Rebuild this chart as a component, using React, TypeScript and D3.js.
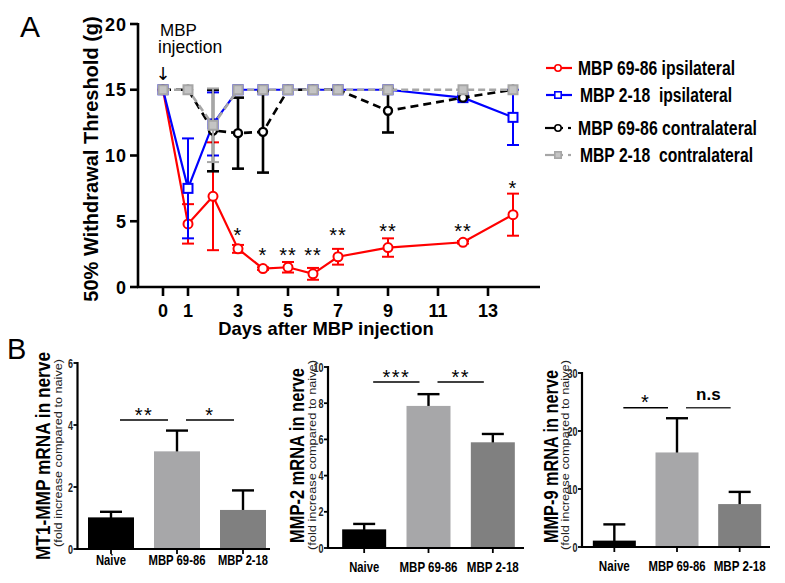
import * as d3 from "d3";

// ---- panel A data ----
const days = [0, 1, 2, 3, 4, 5, 6, 7, 9, 12, 14];
const ipsi6986 = [15, 4.8, 6.9, 2.9, 1.4, 1.5, 1.0, 2.3, 3.0, 3.4, 5.5];
const ipsi6986Err = [0, 1.5, 4.1, 0.3, 0.1, 0.4, 0.45, 0.6, 0.7, 0.1, 1.6];
const ipsi218 = [15, 7.5, 12.4, 15, 15, 15, 15, 15, 15, 14.4, 12.9];
const ipsi218Err = [0, 3.8, 2.4, 0, 0, 0, 0, 0, 0, 0.15, 2.1];
const contra6986 = [15, 15, 11.9, 11.7, 11.8, 15, 15, 15, 13.4, 14.4, 15];
const contra6986Err = [0, 0, 3.1, 2.7, 3.1, 0, 0, 0, 1.65, 0, 0];
const contra218 = [15, 15, 12.3, 15, 15, 15, 15, 15, 15, 15, 15];
const contra218Err = [0, 0, 2.8, 0, 0, 0, 0, 0, 0, 0, 0];
const seriesNames = ["MBP 69-86 ipsilateral", "MBP 2-18  ipsilateral", "MBP 69-86 contralateral", "MBP 2-18  contralateral"];
const dayTicks = [0, 1, 3, 5, 7, 9, 11, 13];
const thresholdTicks = [0, 5, 10, 15, 20];
const starDays = [3, 4, 5, 6, 7, 9, 12, 14];
const starLabels = ["*", "*", "**", "**", "**", "**", "**", "*"];
const starLevels = [4.3, 2.8, 2.8, 2.8, 4.3, 4.6, 4.6, 7.9];

// ---- panel B data ----
const barCategories = ["Naive", "MBP 69-86", "MBP 2-18"];
const mt1Values = [1.02, 3.15, 1.26];
const mt1Err = [0.18, 0.67, 0.63];
const mt1Ticks = [0, 2, 4, 6];
const mt1Sig = ["**", "*"];
const mmp2Values = [1.03, 7.85, 5.84];
const mmp2Err = [0.3, 0.65, 0.46];
const mmp2Ticks = [0, 2, 4, 6, 8, 10];
const mmp2Sig = ["***", "**"];
const mmp9Values = [1.1, 16.3, 7.4];
const mmp9Err = [2.8, 5.9, 2.1];
const mmp9Ticks = [0, 10, 20, 30];
const mmp9Sig = ["*", "n.s"];

const SANS = "'Liberation Sans', Arial, Helvetica, sans-serif";
const NARROW = "'Liberation Sans Narrow', 'Arial Narrow', 'Liberation Sans', Arial, sans-serif";

const seriesStyle = [
  { color: "#ff0000", dash: undefined, marker: "circle", size: 4.5, fill: "#fff", w: 2 },
  { color: "#0000ff", dash: undefined, marker: "square", size: 4.5, fill: "#fff", w: 2 },
  { color: "#000000", dash: "8,5", marker: "circle", size: 4, fill: "#fff", w: 2.4 },
  { color: "#a6a6a6", dash: "7,4", marker: "square", size: 4.5, fill: "#c4c4c4", w: 2 },
];

const Marker = ({ kind, x, y, s, color, fill, w }: any) =>
  kind === "circle" ? (
    <circle cx={x} cy={y} r={s} fill={fill} stroke={color} strokeWidth={w} />
  ) : (
    <rect x={x - s} y={y - s} width={2 * s} height={2 * s} fill={fill} stroke={color} strokeWidth={w} />
  );

const PanelA = () => {
  const x = d3.scaleLinear().domain([-1, 15]).range([138, 538]);
  const y = d3.scaleLinear().domain([0, 20]).range([287, 24]);
  const all = [
    [ipsi6986, ipsi6986Err],
    [ipsi218, ipsi218Err],
    [contra6986, contra6986Err],
    [contra218, contra218Err],
  ];
  const line = d3.line<number>().x((_, i) => x(days[i])).y(d => y(d));
  const legendY = [68, 95, 128, 155];
  const legendLen = [157, 152, 179, 173];
  const legendX = [578, 580, 578, 580];
  return (
    <g>
      <text x={20} y={37} fontSize={30} fontFamily={SANS}>A</text>
      <text x={160} y={36} fontSize={17} fontFamily={SANS}>MBP</text>
      <text x={158} y={53} fontSize={17.5} fontFamily={SANS}>injection</text>
      <text x={x(0)} y={80} fontSize={18} fontFamily="'DejaVu Sans', sans-serif" textAnchor="middle">↓</text>

      {/* series */}
      {all.map(([vals, errs], si) => {
        const st = seriesStyle[si];
        return (
          <g key={si}>
            <path d={line(vals) || ""} fill="none" stroke={st.color} strokeWidth={si >= 2 ? 2.6 : 2.2} strokeDasharray={st.dash} />
            {vals.map((v, i) =>
              errs[i] > 0.05 ? (
                <g key={i} stroke={st.color} strokeWidth={si === 2 ? 2.6 : 2}>
                  <line x1={x(days[i])} x2={x(days[i])} y1={y(v - errs[i])} y2={y(v + errs[i])} />
                  <line x1={x(days[i]) - 6} x2={x(days[i]) + 6} y1={y(v - errs[i])} y2={y(v - errs[i])} />
                  <line x1={x(days[i]) - 6} x2={x(days[i]) + 6} y1={y(v + errs[i])} y2={y(v + errs[i])} />
                </g>
              ) : null
            )}
            {vals.map((v, i) => (
              <Marker key={"m" + i} kind={st.marker} x={x(days[i])} y={y(v)} s={st.size} color={st.color} fill={st.fill} w={st.w} />
            ))}
          </g>
        );
      })}

      {/* stars */}
      {starDays.map((d, i) => (
        <text key={i} x={x(d)} y={y(starLevels[i]) + 11.5} fontSize={20} fontFamily={SANS} textAnchor="middle" letterSpacing={1}>
          {starLabels[i]}
        </text>
      ))}

      {/* axes */}
      <line x1={138} x2={138} y1={y(20) - 1} y2={288} stroke="#000" strokeWidth={2.6} />
      <line x1={137} x2={540} y1={287} y2={287} stroke="#000" strokeWidth={2.6} />
      {thresholdTicks.map(t => (
        <g key={t}>
          <line x1={130} x2={138} y1={y(t)} y2={y(t)} stroke="#000" strokeWidth={2.6} />
          <text x={127} y={y(t) + 6.5} fontSize={18} fontWeight="bold" fontFamily={SANS} textAnchor="end" letterSpacing={1}>{t}</text>
        </g>
      ))}
      {dayTicks.map(t => (
        <g key={t}>
          <line x1={x(t)} x2={x(t)} y1={287} y2={296} stroke="#000" strokeWidth={2.6} />
          <text x={x(t)} y={317} fontSize={18} fontWeight="bold" fontFamily={SANS} textAnchor="middle">{t}</text>
        </g>
      ))}
      <text x={326} y={335} fontSize={18.4} fontWeight="bold" fontFamily={SANS} textAnchor="middle">Days after MBP injection</text>
      <text transform="translate(97.5,159) rotate(-90)" fontSize={20} fontWeight="bold" fontFamily={SANS} textAnchor="middle">
        50% Withdrawal Threshold (g)
      </text>

      {/* legend */}
      {seriesNames.map((name, i) => {
        const st = seriesStyle[i];
        const ly = legendY[i];
        return (
          <g key={name}>
            {i < 2 ? (
              <line x1={546} x2={572} y1={ly} y2={ly} stroke={st.color} strokeWidth={2.2} />
            ) : (
              <g stroke={st.color} strokeWidth={2.2}>
                <line x1={545} x2={563} y1={ly} y2={ly} />
                <line x1={568} x2={571} y1={ly} y2={ly} />
              </g>
            )}
            <Marker kind={st.marker} x={558} y={ly} s={3.2} color={st.color} fill={st.fill} w={1.6} />
            <text x={legendX[i]} y={ly + 7} fontSize={19.5} fontWeight="bold" fontFamily={NARROW}
              textLength={legendLen[i]} lengthAdjust="spacingAndGlyphs" style={{ whiteSpace: "pre" }}>
              {name}
            </text>
          </g>
        );
      })}
    </g>
  );
};

const barColors = ["#000000", "#a7a7a9", "#808080"];

const BarPanel = (p: any) => {
  const y = d3.scaleLinear().domain([0, p.ticks[p.ticks.length - 1]]).range([p.yBottom, p.yTop]);
  const xc = d3.scalePoint<string>().domain(barCategories).range(p.range).padding(0.5);
  const sigY = y(p.sigLevel);
  return (
    <g>
      {p.values.map((v: number, i: number) => {
        const cx = xc(barCategories[i])!;
        const top = y(v + p.errs[i]);
        return (
          <g key={i}>
            <line x1={cx} x2={cx} y1={y(v) + 4} y2={top} stroke="#000" strokeWidth={2.4} />
            <line x1={cx - 11} x2={cx + 11} y1={top} y2={top} stroke="#000" strokeWidth={2.4} />
            <rect x={cx - p.barW / 2} y={y(v)} width={p.barW} height={p.yBottom - y(v)} fill={barColors[i]} />
          </g>
        );
      })}
      {/* significance */}
      {p.sig.map((s: string, i: number) => {
        const a = xc(barCategories[i])! + 9;
        const b = xc(barCategories[i + 1])! - 9;
        return (
          <g key={s + i}>
            <line x1={a} x2={b} y1={sigY} y2={sigY} stroke={s === "n.s" ? "#333" : "#000"} strokeWidth={1.6} />
            {s === "n.s" ? (
              <text x={(a + b) / 2} y={sigY - 8} fontSize={17} fontWeight="bold" fontFamily={SANS} textAnchor="middle">{s}</text>
            ) : (
              <text x={(a + b) / 2} y={sigY + 1.5} fontSize={20} fontFamily={SANS} textAnchor="middle" letterSpacing={1.5}>{s}</text>
            )}
          </g>
        );
      })}
      {/* axes */}
      <line x1={p.axisX} x2={p.axisX} y1={p.yTop - 1} y2={p.yBottom + 1} stroke="#000" strokeWidth={2.2} />
      <line x1={p.axisX - 1} x2={p.axisEnd} y1={p.yBottom} y2={p.yBottom} stroke="#000" strokeWidth={2.2} />
      {p.ticks.map((t: number) => {
        const len = String(t).length * 5;
        return (
          <g key={t}>
            <line x1={p.axisX - 4} x2={p.axisX} y1={y(t)} y2={y(t)} stroke="#000" strokeWidth={1.8} />
            <text x={p.axisX - 4.5 - len} y={y(t) + 4.5} fontSize={12.5} fontWeight="bold" fontFamily={NARROW} fill="#222"
              textLength={len} lengthAdjust="spacingAndGlyphs">{t}</text>
          </g>
        );
      })}
      {barCategories.map((c, i) => (
        <g key={c}>
          <line x1={xc(c)!} x2={xc(c)!} y1={p.yBottom} y2={p.yBottom + 5} stroke="#000" strokeWidth={1.8} />
          <text x={xc(c)! - p.catLens[i] / 2} y={p.catBaseline} fontSize={15} fontWeight="bold" fontFamily={NARROW}
            textLength={p.catLens[i]} lengthAdjust="spacingAndGlyphs">{c}</text>
        </g>
      ))}
      <text transform={`translate(${p.titleX},${p.titleCY + p.titleLen / 2}) rotate(-90)`} fontSize={21} fontWeight="bold" fontFamily={SANS}
        textLength={p.titleLen} lengthAdjust="spacingAndGlyphs">{p.title}</text>
      <text transform={`translate(${p.subX},${p.subCY + p.subLen / 2}) rotate(-90)`} fontSize={11.5} fontFamily={SANS} fill="#222"
        textLength={p.subLen} lengthAdjust="spacingAndGlyphs">(fold increase compared to naive)</text>
    </g>
  );
};

export default function App() {
  return (
    <svg width={785} height={583} style={{ position: "absolute", left: 0, top: 0, background: "#fff" }}>
      <rect width={785} height={583} fill="#fff" />
      <PanelA />
      <text x={7} y={359} fontSize={29} fontFamily={SANS}>B</text>
      <BarPanel values={mt1Values} errs={mt1Err} ticks={mt1Ticks} sig={mt1Sig} sigLevel={4.16}
        axisX={77.5} yTop={363} yBottom={549} range={[78, 276]} axisEnd={270} barW={46}
        catBaseline={565} catLens={[30, 57, 50]}
        title="MT1-MMP mRNA in nerve" titleX={49.5} titleCY={456} titleLen={208}
        subX={61.5} subCY={453} subLen={188} />
      <BarPanel values={mmp2Values} errs={mmp2Err} ticks={mmp2Ticks} sig={mmp2Sig} sigLevel={9.17}
        axisX={328} yTop={367} yBottom={548} range={[332, 525]} axisEnd={524} barW={44}
        catBaseline={572} catLens={[30, 58, 52]}
        title="MMP-2 mRNA in nerve" titleX={303.5} titleCY={455.5} titleLen={175}
        subX={315.5} subCY={455} subLen={190} />
      <BarPanel values={mmp9Values} errs={mmp9Err} ticks={mmp9Ticks} sig={mmp9Sig} sigLevel={24}
        axisX={582} yTop={373} yBottom={547} range={[583, 771]} axisEnd={770} barW={43}
        catBaseline={571} catLens={[31, 57, 52]}
        title="MMP-9 mRNA in nerve" titleX={557.5} titleCY={456.5} titleLen={173}
        subX={568.5} subCY={455} subLen={190} />
    </svg>
  );
}
